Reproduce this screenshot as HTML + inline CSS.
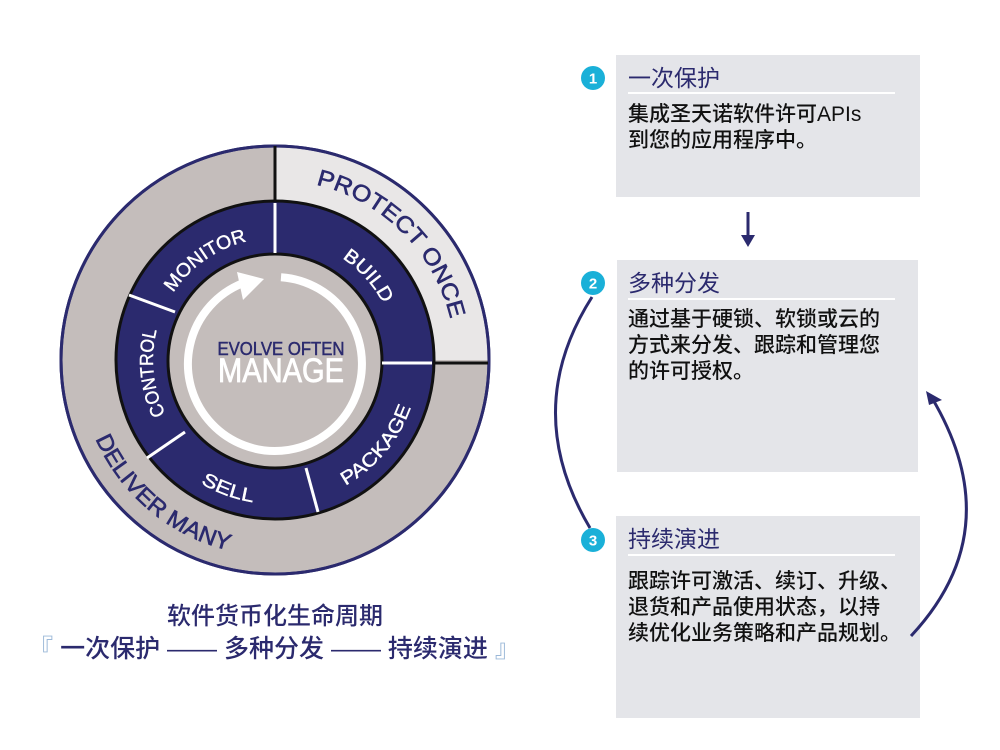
<!DOCTYPE html>
<html><head><meta charset="utf-8"><style>
html,body{margin:0;padding:0;background:#fff;}
svg{display:block}
.cj{font-family:"Liberation Sans","Noto Sans CJK SC",sans-serif;}
.lb{font-family:"Liberation Sans Narrow","Liberation Sans",sans-serif;}
</style></head><body>
<svg width="1000" height="750" viewBox="0 0 1000 750" xmlns="http://www.w3.org/2000/svg">
<defs>
<path id="pMon" d="M153.5,370.6 A122,122 0 0 1 326.6,249.5"/>
<path id="pBld" d="M249.6,240.7 A122,122 0 0 1 391,397.7"/>
<path id="pCtl" d="M225.4,471.5 A122,122 0 0 1 203.3,261.3"/>
<path id="pSel" d="M133.2,385 A144,144 0 0 0 367.6,470.3"/>
<path id="pPkg" d="M250,501.8 A144,144 0 0 0 410.3,310.8"/>
<path id="pPro" d="M228.4,186.1 A180,180 0 0 1 448.9,406.6"/>
<path id="pDel" d="M81.9,326 A196,196 0 0 0 342,544.2"/>
</defs>
<circle cx="275" cy="360" r="214" fill="#c4bdbb" stroke="#2b2a6e" stroke-width="3"/>
<path d="M275,360 L275,147.5 A212.5,212.5 0 0 1 487.5,360 Z" fill="#e9e7e7"/>
<circle cx="275" cy="360" r="214" fill="none" stroke="#2b2a6e" stroke-width="3"/>
<line x1="275" y1="146" x2="275" y2="202" stroke="#111" stroke-width="3"/>
<line x1="432" y1="363" x2="488" y2="363" stroke="#111" stroke-width="3"/>
<circle cx="275" cy="360" r="159" fill="#2b2a6e" stroke="#111" stroke-width="3"/>
<circle cx="275" cy="361" r="107" fill="#c4bdbb" stroke="#111" stroke-width="3"/>
<g stroke="#fff" stroke-width="3">
<line x1="275" y1="203" x2="275" y2="253"/>
<line x1="382" y1="363" x2="432" y2="363"/>
<line x1="306" y1="468" x2="318" y2="512"/>
<line x1="185" y1="432" x2="147" y2="458"/>
<line x1="175" y1="312" x2="129" y2="295"/>
</g>
<path d="M281,277.2 A87,87 0 1 1 242.4,283.3" fill="none" stroke="#fff" stroke-width="8"/>
<polygon points="264,279 237,272 243,300" fill="#fff"/>
<text x="281" y="355" text-anchor="middle" class="lb" font-size="18" fill="#2b2a6e" stroke="#2b2a6e" stroke-width="0.5" textLength="127" lengthAdjust="spacingAndGlyphs">EVOLVE OFTEN</text>
<text x="281" y="382" text-anchor="middle" class="lb" font-size="34" fill="#fff" stroke="#fff" stroke-width="0.8" textLength="126" lengthAdjust="spacingAndGlyphs">MANAGE</text>
<g class="lb" font-size="19" fill="#fff" stroke="#fff" stroke-width="0.4">
<text><textPath href="#pMon" startOffset="50%" text-anchor="middle" textLength="92" lengthAdjust="spacingAndGlyphs">MONITOR</textPath></text>
<text><textPath href="#pBld" startOffset="50%" text-anchor="middle" textLength="62" lengthAdjust="spacingAndGlyphs">BUILD</textPath></text>
<text><textPath href="#pCtl" startOffset="50%" text-anchor="middle" textLength="86" lengthAdjust="spacingAndGlyphs">CONTROL</textPath></text>
<text><textPath href="#pSel" startOffset="50%" text-anchor="middle" textLength="56" lengthAdjust="spacingAndGlyphs">SELL</textPath></text>
<text><textPath href="#pPkg" startOffset="50%" text-anchor="middle" textLength="104" lengthAdjust="spacingAndGlyphs">PACKAGE</textPath></text>
</g>
<g class="lb" font-size="23" fill="#2b2a6e" stroke="#2b2a6e" stroke-width="0.6">
<text><textPath href="#pPro" startOffset="50%" text-anchor="middle" textLength="200" lengthAdjust="spacingAndGlyphs">PROTECT ONCE</textPath></text>
<text><textPath href="#pDel" startOffset="50%" text-anchor="middle" textLength="180" lengthAdjust="spacingAndGlyphs">DELIVER MANY</textPath></text>
</g>
<text x="275" y="624" text-anchor="middle" class="cj" font-size="24" font-weight="500" fill="#2b2a6e">软件货币化生命周期</text>
<text x="274" y="657" text-anchor="middle" class="cj" font-size="25" font-weight="500" fill="#2b2a6e"><tspan fill="#9bb8d8">『</tspan> 一次保护 —— 多种分发 —— 持续演进 <tspan fill="#9bb8d8">』</tspan></text>
<rect x="616" y="55" width="304" height="142" fill="#e4e5e9"/>
<rect x="617" y="260" width="301" height="212" fill="#e4e5e9"/>
<rect x="616" y="516" width="304" height="202" fill="#e4e5e9"/>
<g fill="#fff"><rect x="628" y="92" width="267" height="2"/><rect x="628" y="298" width="267" height="2"/><rect x="628" y="554" width="267" height="2"/></g>
<g fill="#1ab0d8"><circle cx="593" cy="78" r="12"/><circle cx="593" cy="283" r="12"/><circle cx="593" cy="540" r="12"/></g>
<g font-family="Liberation Sans,sans-serif" font-weight="bold" font-size="15" fill="#fff" text-anchor="middle">
<text x="593" y="83.5">1</text><text x="593" y="288.5">2</text><text x="593" y="545.5">3</text></g>
<g class="cj" font-size="23" fill="#2b2a6e">
<text x="628" y="86">一次保护</text><text x="628" y="291">多种分发</text><text x="628" y="547">持续演进</text></g>
<g class="cj" font-size="21" font-weight="500" fill="#111">
<text x="628" y="121">集成圣天诺软件许可APIs</text>
<text x="628" y="147">到您的应用程序中。</text>
<text x="628" y="326">通过基于硬锁、软锁或云的</text>
<text x="628" y="352">方式来分发、跟踪和管理您</text>
<text x="628" y="378">的许可授权。</text>
<text x="628" y="588">跟踪许可激活、续订、升级、</text>
<text x="628" y="614">退货和产品使用状态，以持</text>
<text x="628" y="640">续优化业务策略和产品规划。</text>
</g>
<line x1="748" y1="212" x2="748" y2="238" stroke="#2b2a6e" stroke-width="3"/>
<polygon points="741,235 755,235 748,247" fill="#2b2a6e"/>
<path d="M592,297 Q520,410 590,528" fill="none" stroke="#2b2a6e" stroke-width="3"/>
<path d="M911,636 Q1010,530 932,398" fill="none" stroke="#2b2a6e" stroke-width="3"/>
<polygon points="926,391 942,400 929,405" fill="#2b2a6e"/>
</svg>
</body></html>
